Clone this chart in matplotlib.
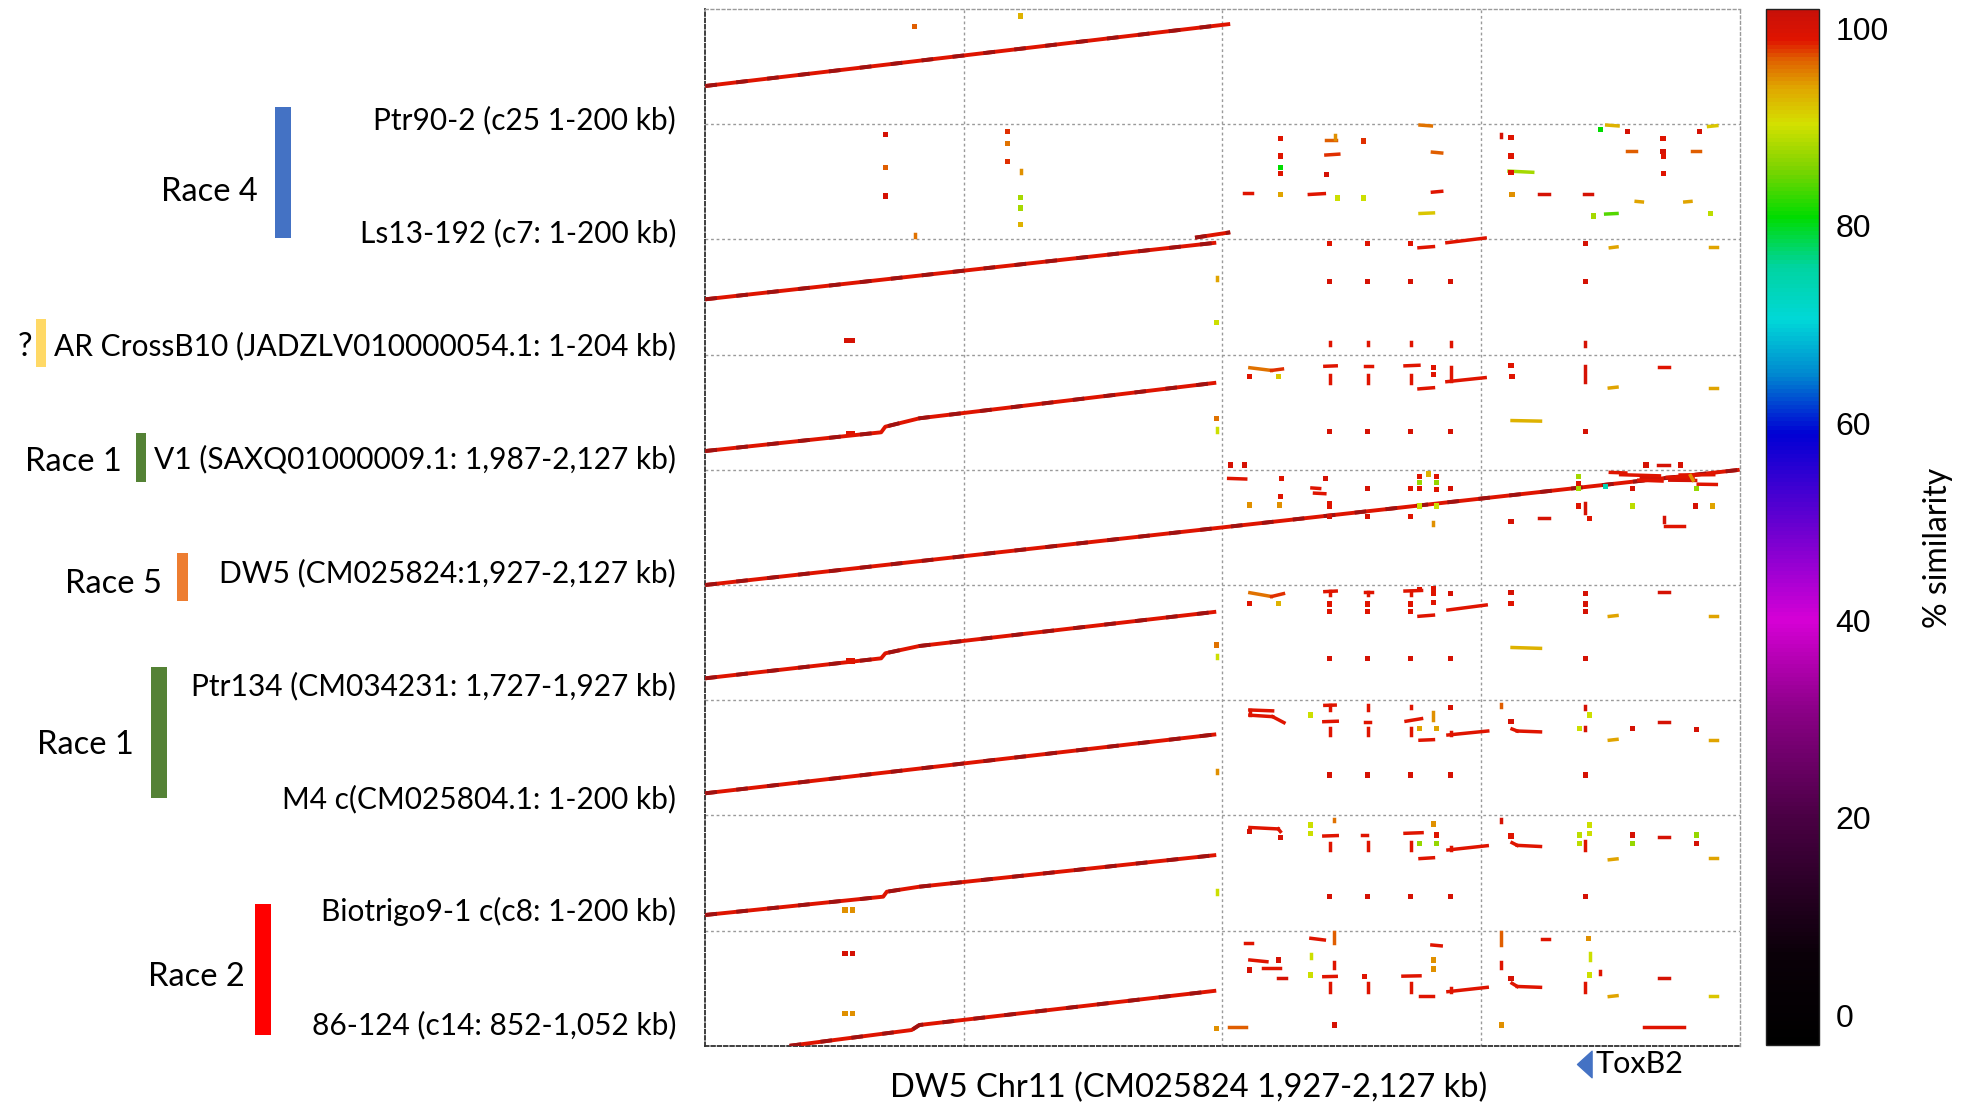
import matplotlib
matplotlib.use('Agg')
import matplotlib.pyplot as plt
from matplotlib.colors import LinearSegmentedColormap, Normalize
from matplotlib.cm import ScalarMappable
from matplotlib.collections import LineCollection
from matplotlib.patches import Rectangle
from matplotlib.path import Path
import matplotlib.transforms as mtransforms

# query regions, top to bottom, each plotted against DW5 Chr11 1,927-2,127 kb
queries = ['Ptr90-2 (c25 1-200 kb)',
           'Ls13-192 (c7: 1-200 kb)',
           'AR CrossB10 (JADZLV010000054.1: 1-204 kb)',
           'V1 (SAXQ01000009.1: 1,987-2,127 kb)',
           'DW5 (CM025824:1,927-2,127 kb)',
           'Ptr134 (CM034231: 1,727-1,927 kb)',
           'M4 c(CM025804.1: 1-200 kb)',
           'Biotrigo9-1 c(c8: 1-200 kb)',
           '86-124 (c14: 852-1,052 kb)']

race_names = ['Race 4', '?', 'Race 1', 'Race 5', 'Race 1', 'Race 2']
race_colors = ['#4472C4', '#FFD966', '#548235', '#ED7D31', '#548235', '#FF0000']

# main syntenic alignments: (row, [(x kb, y kb), ...])
main_lines = [
    (0, [(0, 66.3), (101.5, 174.0)]),
    (2, [(0, 96.0), (98.8, 194.3)]),
    (2, [(94.7, 203.0), (101.5, 212.3)]),
    (3, [(0, 32.6), (34.0, 65.1), (34.8, 74.8), (41.4, 89.4), (98.8, 151.2)]),
    (4, [(0, 0), (200, 200)]),
    (5, [(0, 38.0), (34.0, 72.7), (34.8, 81.4), (41.4, 94.1), (98.8, 153.6)]),
    (6, [(0, 38.4), (98.8, 140.8)]),
    (7, [(0, 27.1), (34.4, 58.9), (35.1, 67.5), (41.4, 76.2), (98.8, 131.2)]),
    (8, [(16.3, 0), (39.9, 27.4), (41.4, 36.1), (98.8, 95.7)]),
]

# short hits: (row, x kb, y kb, % similarity)
dots = [
    (0, 40.5, 169.3, 97), (0, 61.0, 187.8, 93),
    (1, 34.8, 181.8, 100), (1, 34.9, 124.5, 97), (1, 34.8, 75.3, 100),
    (1, 58.5, 187.6, 98), (1, 58.5, 166.8, 96), (1, 58.5, 135.6, 98),
    (1, 61.0, 73.1, 88), (1, 61.0, 54.5, 88), (1, 61.0, 25.5, 93),
    (1, 111.2, 175.5, 99), (1, 111.3, 144.8, 99), (1, 111.3, 124.5, 81), (1, 111.3, 114.7, 99), (1, 111.2, 77.6, 94),
    (1, 120.1, 113.0, 100), (1, 122.2, 71.9, 90), (1, 127.3, 170.8, 98), (1, 127.3, 71.9, 90),
    (1, 155.8, 176.6, 99), (1, 155.8, 144.8, 99), (1, 155.8, 116.5, 99), (1, 156.0, 78.3, 95),
    (1, 173.1, 190.8, 81), (1, 178.4, 187.9, 100), (1, 185.2, 175.5, 99), (1, 185.2, 152.3, 100),
    (1, 185.3, 144.8, 99), (1, 185.3, 114.7, 99), (1, 171.7, 40.6, 88), (1, 192.2, 187.9, 100), (1, 194.4, 45.3, 89),
    (2, 98.9, 55.4, 90), (2, 27.4, 24.1, 100), (2, 28.5, 24.1, 100),
    (2, 120.7, 193.2, 99), (2, 128.1, 193.2, 99), (2, 136.4, 193.2, 99), (2, 170.2, 193.2, 100),
    (2, 120.7, 126.6, 100), (2, 128.1, 126.6, 100), (2, 136.4, 126.6, 100), (2, 144.1, 126.6, 100), (2, 170.2, 126.6, 100),
    (3, 27.7, 63.4, 99), (3, 28.5, 63.4, 99), (3, 98.9, 89.4, 96),
    (3, 101.6, 8.3, 100), (3, 104.2, 8.3, 100), (3, 105.3, 161.6, 99), (3, 110.8, 161.6, 92),
    (3, 140.8, 178.0, 99), (3, 140.8, 165.0, 99), (3, 155.8, 180.4, 99), (3, 156.0, 161.6, 99),
    (3, 181.9, 8.3, 100), (3, 188.5, 8.3, 100),
    (3, 120.7, 66.2, 100), (3, 128.1, 66.2, 100), (3, 136.4, 66.2, 100), (3, 144.1, 66.2, 100), (3, 170.2, 66.2, 100),
    (4, 111.4, 184.4, 99), (4, 119.9, 184.4, 100), (4, 111.2, 153.3, 99), (4, 105.3, 138.9, 95), (4, 111.0, 138.9, 95),
    (4, 120.7, 141.8, 99), (4, 120.7, 136.0, 99), (4, 120.7, 118.6, 100), (4, 128.1, 167.9, 100), (4, 128.1, 118.6, 100),
    (4, 136.4, 167.9, 99), (4, 138.1, 167.9, 99), (4, 138.1, 188.0, 99), (4, 141.4, 188.0, 99), (4, 139.8, 192.7, 93),
    (4, 138.1, 177.6, 87), (4, 141.4, 177.6, 87), (4, 141.4, 166.0, 99), (4, 144.1, 167.9, 100), (4, 136.4, 118.6, 99),
    (4, 138.1, 137.1, 90), (4, 141.4, 137.1, 90), (4, 168.9, 188.0, 88), (4, 168.9, 176.5, 99), (4, 168.9, 167.9, 88),
    (4, 168.9, 137.1, 99), (4, 171.0, 115.8, 99), (4, 155.8, 109.9, 100), (4, 174.1, 170.6, 74), (4, 179.3, 167.9, 100),
    (4, 179.3, 137.1, 89), (4, 191.5, 137.1, 100), (4, 194.8, 137.1, 94), (4, 191.6, 167.9, 87),
    (5, 27.7, 68.0, 99), (5, 28.5, 68.0, 99), (5, 98.9, 95.8, 96), (5, 105.3, 168.2, 99), (5, 110.8, 168.2, 93),
    (5, 120.7, 167.0, 99), (5, 120.7, 153.7, 99), (5, 128.1, 167.0, 99), (5, 128.1, 153.7, 99),
    (5, 136.4, 167.0, 99), (5, 136.4, 153.7, 99), (5, 138.1, 191.5, 99), (5, 140.8, 193.0, 99),
    (5, 140.8, 185.6, 99), (5, 140.8, 169.0, 99), (5, 144.1, 185.6, 100), (5, 155.8, 187.5, 100), (5, 155.8, 168.2, 99),
    (5, 170.2, 185.6, 100), (5, 170.2, 167.0, 100), (5, 170.2, 153.7, 100),
    (5, 120.7, 72.7, 100), (5, 128.1, 72.7, 100), (5, 136.4, 72.7, 100), (5, 144.1, 72.7, 100), (5, 170.2, 72.7, 100),
    (6, 117.1, 174.3, 90), (6, 138.1, 151.0, 94), (6, 141.4, 151.0, 94), (6, 144.1, 188.0, 100), (6, 155.8, 162.7, 100),
    (6, 169.0, 151.0, 90), (6, 171.0, 174.3, 90), (6, 179.3, 151.0, 100), (6, 191.6, 149.0, 100),
    (6, 120.7, 70.1, 100), (6, 128.1, 70.1, 100), (6, 136.4, 70.1, 100), (6, 144.1, 70.1, 100), (6, 170.2, 70.1, 100),
    (7, 27.0, 35.8, 95), (7, 28.5, 35.8, 95), (7, 105.3, 171.7, 100), (7, 111.2, 161.6, 100),
    (7, 117.1, 183.3, 90), (7, 117.1, 168.9, 90), (7, 138.1, 151.5, 87), (7, 141.4, 151.5, 87), (7, 140.8, 185.0, 95),
    (7, 141.4, 166.0, 99), (7, 155.8, 164.2, 99), (7, 169.0, 166.0, 89), (7, 169.0, 151.5, 89), (7, 171.0, 183.3, 90),
    (7, 171.0, 168.9, 90), (7, 179.3, 166.0, 100), (7, 179.3, 151.5, 87), (7, 191.6, 166.0, 87), (7, 191.6, 151.5, 100),
    (7, 120.7, 58.9, 100), (7, 128.1, 58.9, 100), (7, 136.4, 58.9, 100), (7, 144.1, 58.9, 100), (7, 170.2, 58.9, 100),
    (8, 98.8, 30.4, 95), (8, 27.0, 56.4, 95), (8, 28.5, 56.4, 95), (8, 27.0, 160.6, 100), (8, 28.5, 160.6, 100),
    (8, 105.3, 131.6, 100), (8, 110.8, 149.0, 100), (8, 117.1, 122.9, 90), (8, 121.6, 36.1, 100),
    (8, 127.5, 120.0, 99), (8, 140.8, 149.0, 95), (8, 140.8, 133.5, 95), (8, 155.8, 117.2, 100), (8, 153.9, 36.1, 95),
    (8, 170.8, 186.6, 95), (8, 171.0, 122.9, 90),
]

# short hits drawn as strokes: (row, x0, y0, x1, y1, % similarity)
segments = [
    (1, 40.5, 9.5, 40.5, 4.5, 96), (1, 61.0, 121.0, 61.0, 114.5, 95), (1, 153.9, 182.5, 153.9, 177.0, 100),
    (1, 104.2, 81.1, 105.8, 81.1, 99), (1, 120.0, 173.4, 122.0, 173.4, 97), (1, 121.7, 181.0, 121.7, 175.0, 95),
    (1, 120.0, 146.5, 122.5, 148.0, 98), (1, 116.8, 78.0, 119.7, 79.5, 99), (1, 138.2, 198.5, 140.4, 197.0, 96),
    (1, 140.6, 151.5, 142.4, 150.0, 97), (1, 140.6, 82.0, 142.4, 83.5, 99), (1, 138.2, 45.0, 140.8, 46.0, 92),
    (1, 155.4, 118.5, 160.0, 116.5, 88), (1, 161.2, 78.3, 163.2, 78.3, 100), (1, 170.0, 78.3, 171.5, 78.3, 100),
    (1, 174.3, 198.5, 176.5, 197.0, 93), (1, 178.2, 153.5, 179.9, 153.5, 97), (1, 180.0, 66.0, 181.2, 65.0, 94),
    (1, 189.4, 65.0, 190.6, 66.0, 94), (1, 174.1, 44.0, 176.3, 45.0, 84), (1, 190.8, 153.5, 192.4, 153.5, 97),
    (1, 194.0, 196.0, 195.6, 197.5, 92),
    (2, 98.9, 135.5, 98.9, 129.5, 94), (2, 138.0, 185.5, 140.8, 187.5, 99), (2, 143.4, 194.3, 150.8, 202.4, 99),
    (2, 175.0, 185.5, 176.3, 187.0, 94), (2, 194.2, 186.5, 195.6, 186.5, 94),
    (2, 120.7, 22.5, 120.7, 17.0, 99), (2, 128.1, 22.5, 128.1, 17.0, 99), (2, 136.4, 22.5, 136.4, 17.0, 99),
    (2, 144.1, 22.5, 144.1, 15.5, 99), (2, 170.2, 22.5, 170.2, 15.5, 100),
    (3, 98.9, 72.5, 98.9, 65.5, 90), (3, 105.3, 177.2, 109.5, 172.5, 96), (3, 109.5, 172.5, 111.6, 175.0, 98),
    (3, 119.8, 179.7, 122.0, 180.5, 99), (3, 120.7, 164.6, 120.7, 150.1, 99),
    (3, 127.5, 180.0, 129.0, 180.0, 99), (3, 128.1, 164.6, 128.1, 150.1, 99),
    (3, 135.3, 180.5, 138.0, 181.5, 99), (3, 136.4, 164.6, 136.4, 150.1, 99),
    (3, 144.1, 178.0, 144.1, 154.0, 99), (3, 143.4, 153.0, 150.8, 160.0, 99), (3, 138.0, 140.5, 140.8, 142.5, 99),
    (3, 170.2, 180.0, 170.2, 152.0, 100), (3, 184.5, 179.0, 186.3, 179.0, 99), (3, 174.8, 142.0, 176.3, 143.5, 94),
    (3, 194.2, 142.5, 195.6, 142.5, 94), (3, 156.0, 85.5, 161.5, 84.5, 93), (3, 184.3, 8.3, 186.3, 8.3, 100),
    (4, 101.2, 185.0, 104.5, 184.0, 99), (4, 117.3, 168.5, 118.8, 167.5, 99), (4, 117.8, 159.5, 119.8, 158.5, 99),
    (4, 140.8, 110.0, 140.8, 104.0, 95), (4, 170.2, 141.8, 170.2, 124.5, 100), (4, 161.2, 116.8, 163.2, 116.8, 100),
    (4, 185.3, 118.6, 185.3, 109.9, 100), (4, 185.5, 102.4, 189.3, 102.4, 99),
    (4, 175.0, 195.5, 178.0, 194.5, 99), (4, 177.0, 191.5, 184.5, 189.5, 99), (4, 181.0, 186.0, 184.5, 184.0, 100),
    (4, 180.5, 182.0, 185.0, 180.5, 99), (4, 186.0, 187.0, 191.0, 186.0, 99), (4, 186.5, 182.0, 191.5, 181.5, 100),
    (4, 188.5, 191.0, 195.0, 191.5, 99), (4, 192.0, 175.0, 195.5, 174.5, 99), (4, 190.5, 190.0, 191.0, 182.0, 95),
    (5, 98.9, 78.5, 98.9, 72.5, 90), (5, 105.3, 186.6, 109.5, 180.0, 96), (5, 109.5, 180.0, 111.8, 185.0, 98),
    (5, 119.8, 188.5, 122.0, 189.5, 99), (5, 120.7, 189.5, 120.7, 183.0, 99),
    (5, 127.5, 188.5, 129.0, 188.5, 99), (5, 128.1, 188.5, 128.1, 183.0, 99),
    (5, 135.3, 189.5, 138.5, 190.5, 99), (5, 136.4, 189.5, 136.4, 183.0, 99),
    (5, 138.0, 145.7, 140.8, 147.7, 99), (5, 143.6, 156.6, 151.0, 165.3, 99), (5, 184.5, 187.5, 186.3, 187.5, 100),
    (5, 174.8, 145.5, 176.3, 147.0, 94), (5, 194.2, 147.0, 195.6, 147.0, 94), (5, 156.0, 91.5, 161.5, 90.0, 93),
    (6, 98.9, 79.0, 98.9, 73.0, 95),
    (6, 105.3, 183.0, 109.7, 181.5, 99), (6, 105.3, 183.0, 105.3, 174.0, 99), (6, 105.3, 174.0, 109.7, 171.4, 99),
    (6, 109.7, 171.4, 111.9, 161.0, 99),
    (6, 119.8, 191.0, 121.8, 191.5, 99), (6, 120.7, 191.0, 120.7, 183.0, 99), (6, 119.6, 162.7, 122.2, 163.5, 99),
    (6, 120.7, 151.0, 120.7, 139.6, 99), (6, 128.1, 191.0, 128.1, 183.0, 99), (6, 127.5, 162.7, 128.5, 162.7, 99),
    (6, 128.1, 151.0, 128.1, 139.6, 99), (6, 136.4, 190.0, 136.4, 186.5, 99), (6, 135.5, 163.5, 138.5, 168.0, 99),
    (6, 136.4, 151.0, 136.4, 139.6, 99), (6, 140.8, 180.0, 140.8, 165.6, 95), (6, 138.2, 130.5, 140.8, 131.5, 99),
    (6, 143.6, 139.6, 151.3, 146.5, 99), (6, 144.1, 144.5, 144.1, 139.6, 99), (6, 153.9, 193.5, 153.9, 189.0, 97),
    (6, 156.0, 150.0, 157.0, 146.5, 99), (6, 157.0, 146.5, 161.5, 145.0, 99),
    (6, 170.2, 190.0, 170.2, 184.0, 100), (6, 170.2, 153.5, 170.2, 148.0, 100),
    (6, 174.8, 130.5, 176.3, 132.0, 94), (6, 184.5, 162.7, 186.3, 162.7, 100), (6, 194.2, 131.0, 195.6, 131.0, 94),
    (7, 98.9, 71.0, 98.9, 64.0, 90), (7, 105.3, 179.0, 110.8, 176.5, 99), (7, 110.8, 176.5, 111.2, 172.0, 99),
    (7, 121.6, 194.0, 121.6, 189.5, 96), (7, 119.6, 164.2, 122.2, 165.0, 99), (7, 120.7, 151.5, 120.7, 140.0, 99),
    (7, 127.0, 166.0, 128.0, 166.0, 99), (7, 128.1, 153.0, 128.1, 140.0, 99), (7, 135.3, 168.9, 138.6, 170.0, 99),
    (7, 136.4, 153.0, 136.4, 140.0, 99), (7, 138.2, 125.0, 140.8, 126.5, 99), (7, 143.6, 140.0, 151.2, 147.4, 99),
    (7, 144.1, 145.0, 144.1, 140.0, 99), (7, 153.9, 194.6, 153.9, 188.7, 100), (7, 156.0, 152.6, 157.0, 148.0, 99),
    (7, 157.0, 148.0, 161.5, 146.0, 99), (7, 170.2, 155.0, 170.2, 140.0, 99), (7, 174.8, 123.0, 176.3, 124.5, 94),
    (7, 184.5, 163.0, 186.3, 163.0, 100), (7, 194.2, 125.5, 195.6, 125.5, 94),
    (8, 104.3, 178.5, 105.8, 178.5, 99), (8, 105.3, 149.0, 108.6, 146.0, 99), (8, 107.9, 134.5, 111.2, 134.5, 99),
    (8, 110.8, 117.2, 112.3, 117.2, 100), (8, 117.1, 186.6, 119.7, 183.7, 99), (8, 121.6, 198.0, 121.6, 177.9, 97),
    (8, 117.1, 159.0, 117.1, 153.0, 90), (8, 121.6, 146.0, 121.6, 134.5, 99), (8, 119.6, 120.0, 122.0, 120.5, 99),
    (8, 120.7, 108.5, 120.7, 94.0, 99), (8, 128.1, 108.5, 128.1, 94.0, 99), (8, 134.9, 120.9, 138.2, 121.5, 99),
    (8, 136.4, 108.5, 136.4, 94.0, 99), (8, 138.2, 86.5, 140.8, 86.5, 99), (8, 140.5, 175.0, 142.3, 173.5, 99),
    (8, 143.6, 94.0, 151.2, 101.5, 99), (8, 144.1, 100.0, 144.1, 94.0, 99), (8, 153.9, 198.0, 153.9, 175.0, 97),
    (8, 153.9, 146.0, 153.9, 134.5, 99), (8, 161.7, 184.9, 163.2, 184.9, 99), (8, 156.0, 108.5, 157.0, 103.0, 99),
    (8, 157.0, 103.0, 161.5, 101.5, 99), (8, 171.0, 160.6, 171.0, 148.9, 90), (8, 173.1, 130.0, 173.1, 124.0, 99),
    (8, 170.2, 108.5, 170.2, 94.0, 99), (8, 174.8, 85.5, 176.3, 87.0, 94), (8, 184.5, 117.2, 186.3, 117.2, 100),
    (8, 194.2, 86.5, 195.6, 86.5, 92), (8, 101.2, 33.2, 104.5, 33.2, 97), (8, 181.5, 33.2, 189.3, 33.2, 99),
]

toxb2_kb = 168.6

# similarity colour scale
sim_colors = [(-3, '#000000'), (6, '#0a0008'), (20, '#4a0044'), (31, '#8c0088'), (40, '#d600d6'),
              (49, '#7000d0'), (59, '#0000d4'), (65, '#0088d0'), (70.5, '#00d8d8'), (76, '#00d4a0'),
              (81, '#00dc00'), (86, '#80d400'), (90.5, '#d4e000'), (94, '#e0a800'), (97, '#e06000'),
              (99, '#e01400'), (102, '#c81008')]
sim_norm = Normalize(vmin=-3, vmax=102)
sim_cmap = LinearSegmentedColormap.from_list(
    'similarity', [((v + 3) / 105.0, c) for v, c in sim_colors])

W, H = 1967, 1111
plt.rcParams['font.family'] = ['Lato', 'DejaVu Sans']
fig = plt.figure(figsize=(W / 100, H / 100), dpi=100)
ax = fig.add_axes([705.3 / W, 1 - 1045.8 / H, (1739.6 - 705.3) / W, (1045.8 - 9) / H])
nrows = len(queries)
ax.set_xlim(0, 200)
ax.set_ylim(0, 200 * nrows)


def base(row):
    return (nrows - 1 - row) * 200


# dotted grid every 50 kb and at every query boundary
grid_kw = dict(color='#9a9a9a', lw=1.0, ls=(0, (2, 2)), zorder=1)
for x in (50, 100, 150):
    ax.axvline(x, **grid_kw)
for k in range(1, nrows):
    ax.axhline(200 * k, **grid_kw)
for side in ('top', 'right'):
    ax.spines[side].set(color='#9a9a9a', lw=1.0, ls=(0, (2, 2)))
for side in ('left', 'bottom'):
    ax.spines[side].set(color='#303030', lw=1.3, ls=(0, (2, 1.5)))
ax.set_xticks([])
ax.set_yticks([])

# main alignments: red with darker steps
for row, pts in main_lines:
    xs = [p[0] for p in pts]
    ys = [base(row) + p[1] for p in pts]
    ax.plot(xs, ys, color=sim_cmap(sim_norm(99)), lw=2.8, solid_capstyle='butt', zorder=3)
    ax.plot(xs, ys, color='#9e1212', lw=2.8, ls=(0, (3, 5)), dash_capstyle='butt', zorder=4)

segs = [[(x0, base(r) + y0), (x1, base(r) + y1)] for r, x0, y0, x1, y1, s in segments]
seg_cols = [sim_cmap(sim_norm(s)) for *_, s in segments]
ax.add_collection(LineCollection(segs, colors=seg_cols, linewidths=2.5, capstyle='projecting', zorder=5))

ax.scatter([d[1] for d in dots], [base(d[0]) + d[2] for d in dots],
           c=[d[3] for d in dots], cmap=sim_cmap, norm=sim_norm,
           marker='s', s=14, linewidths=0, zorder=5)

# ToxB2 position below the x axis
tri = Path([(0, 0), (1.1, 1), (1.1, -1), (0, 0)], closed=True)
trans = mtransforms.blended_transform_factory(ax.transData, ax.transAxes)
ax.plot([toxb2_kb], [-0.0175], marker=tri, markersize=21, color='#4472C4',
        transform=trans, clip_on=False)
ax.annotate('ToxB2', (toxb2_kb, -0.0175), xycoords=trans, xytext=(13, 0), textcoords='offset points',
            ha='left', va='center', fontsize=22, annotation_clip=False)

fig.text(1189 / W, 1 - 1088 / H, 'DW5 Chr11 (CM025824 1,927-2,127 kb)',
         ha='center', va='center', fontsize=23.5)

# query names, right aligned against the plot
for i, name in enumerate(queries):
    fig.text(676 / W, 1 - (129.7 + 113.06 * i) / H, name, ha='right', va='baseline', fontsize=21.5)

# race groups: bar extent (x0, x1, y0, y1) and label anchor (right x, centre y) in pixels
race_layout = [(274.6, 291.0, 107.3, 238.3, 258.0, 191.7),
               (35.7, 46.0, 318.7, 366.7, 32.0, 346.7),
               (136.0, 146.4, 433.3, 481.7, 121.4, 461.7),
               (177.2, 187.5, 552.5, 600.7, 161.6, 583.9),
               (150.9, 167.0, 667.0, 798.0, 134.0, 744.6),
               (255.0, 271.0, 903.6, 1035.0, 244.6, 976.8)]
for name, col, (x0, x1, y0, y1, tx, ty) in zip(race_names, race_colors, race_layout):
    fig.add_artist(Rectangle((x0 / W, 1 - y1 / H), (x1 - x0) / W, (y1 - y0) / H,
                             transform=fig.transFigure, color=col, lw=0))
    fig.text(tx / W, 1 - ty / H, name, ha='right', va='center', fontsize=23.5)

# colour bar
cax = fig.add_axes([1766 / W, 1 - 1045 / H, 53 / W, (1045 - 8.5) / H])
cb = fig.colorbar(ScalarMappable(norm=sim_norm, cmap=sim_cmap), cax=cax, ticks=[0, 20, 40, 60, 80, 100])
cb.outline.set_edgecolor('#222222')
cb.outline.set_linewidth(1.0)
cax.tick_params(length=0, pad=12)
for lab in cax.get_yticklabels():
    lab.set_fontfamily('Liberation Sans')
    lab.set_fontsize(23)
fig.text(1938 / W, 1 - 548 / H, '% similarity', rotation=90, ha='center', va='center', fontsize=23)

fig.savefig('out.png', dpi=100, facecolor='white')
